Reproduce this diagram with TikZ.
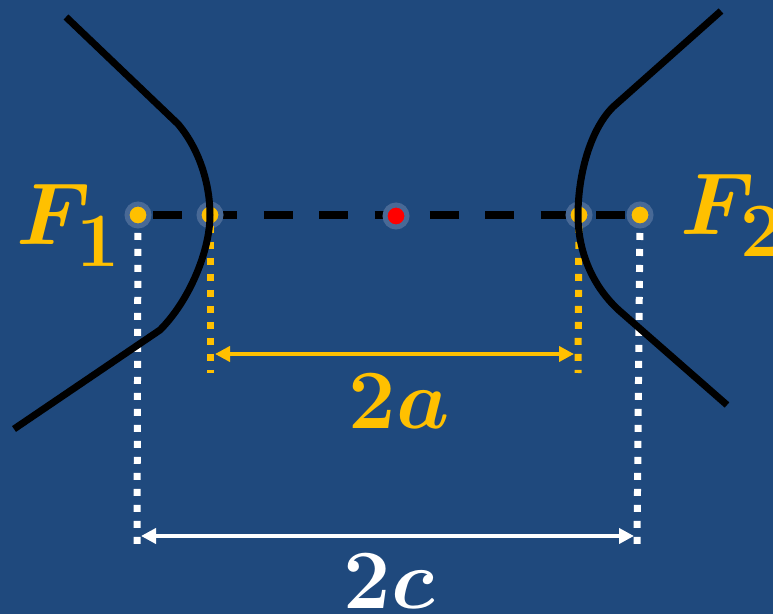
\RequirePackage{fix-cm}
\documentclass[tikz,border=0pt]{standalone}
\usepackage{amsmath,bm}
\usepackage{xcolor}
\usetikzlibrary{positioning,arrows.meta,backgrounds}

\definecolor{bgblue}{RGB}{31,73,125}
\definecolor{gold}{RGB}{255,192,0}
\definecolor{halo}{RGB}{72,105,150}

\newcommand{\bigsub}[1]{\raisebox{-5pt}{\scalebox{1.25}{$\scriptstyle\bm{#1}$}}}

\begin{document}
\begin{tikzpicture}[x=0.02cm, y=-0.02cm,
  focus/.style={circle, inner sep=0pt, outer sep=0pt, minimum size=0.44cm, fill=gold, draw=halo, line width=0.1cm},
  branch/.style={line width=0.14cm, line join=round},
  axisline/.style={line width=0.15cm, dash pattern=on 0.58cm off 0.528cm, dash phase=0.808cm},
  dotline/.style={line width=0.14cm, dash pattern=on 0.14cm off 0.18cm},
  dimline/.style={line width=0.08cm, {Triangle[length=0.3cm,width=0.3cm]}-{Triangle[length=0.3cm,width=0.3cm]}},
  lbl/.style={inner sep=0pt, font=\fontsize{48}{52}\selectfont},
  flbl/.style={lbl, gold, font=\fontsize{50}{54}\selectfont}]
% background
\begin{scope}[on background layer]
\fill[bgblue] (0,0) rectangle (773,614);
\end{scope}
\useasboundingbox (0,0) rectangle (773,614);
% foci, vertices, centre
\node[focus] (F1) at (138,215) {};
\node[focus] (A1) at (210,215) {};
\node[focus, fill=red] (O) at (396,216) {};
\node[focus] (A2) at (579,215) {};
\node[focus] (F2) at (640,215) {};
% transverse axis
\begin{scope}[on background layer]
\draw[axisline] (F1.center) -- (F2.center);
\end{scope}
% dotted drops
\coordinate (wf1) at (137,545);
\coordinate (wf2) at (637,545);
\coordinate (ya1) at (210,373);
\coordinate (ya2) at (578,373);
\draw[dotline, white, shorten <=0.14cm] (F1) -- (wf1);
\draw[dotline, white, shorten <=0.14cm] (F2) -- (wf2);
\draw[dotline, gold] (A1) -- (ya1);
\draw[dotline, gold] (A2) -- (ya2);
% dimensions
\coordinate (d1) at (215,354);
\coordinate (d2) at (574,354);
\coordinate (e1) at (141,536);
\coordinate (e2) at (634,536);
\draw[dimline, gold] (d1) -- (d2);
\draw[dimline, white] (e1) -- (e2);
% branches
\draw[branch] (66,17) -- (178,124) .. controls (200,150) and (210,185) .. (210,215)
  .. controls (210,250) and (190,300) .. (160,330) -- (14,429);
\draw[branch] (721,11) -- (613,107) .. controls (590,130) and (578,175) .. (578,215)
  .. controls (578,255) and (595,290) .. (622,313) -- (727,405);
% labels
\node[flbl, anchor=base east] (lf1) at (121,245) {$\bm{F}_{\bigsub{1}}$};
\node[flbl, anchor=base west] (lf2) at (680,235) {$\bm{F}_{\bigsub{2}}$};
\node[lbl, gold, anchor=base] (la) at (399,428) {$\mathbf{2}\bm{a}$};
\node[lbl, white, anchor=base] (lc) at (389,608) {$\mathbf{2}\bm{c}$};
\end{tikzpicture}
\end{document}
